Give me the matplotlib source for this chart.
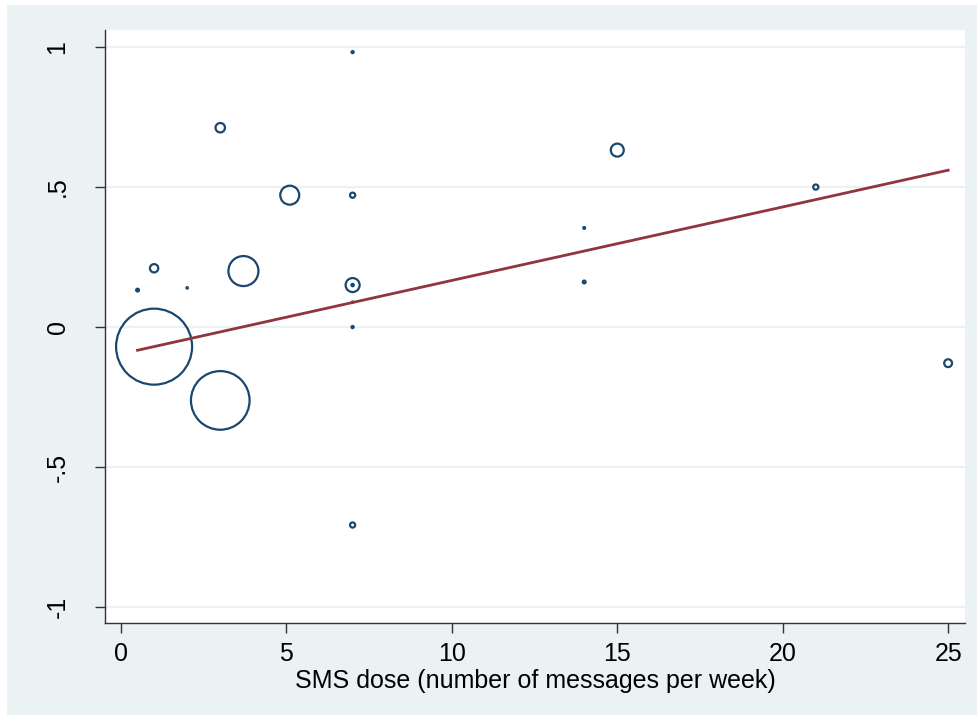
import matplotlib
matplotlib.use("Agg")
import matplotlib.pyplot as plt
from matplotlib.patches import Rectangle
import numpy as np

# ---- data ----
sms_dose = [1, 3, 3.7, 5.1, 7, 15, 3, 1, 25, 7, 21, 7, 7, 7, 7, 0.5, 14, 2, 14, 7]
effect = [-0.070, -0.262, 0.200, 0.471, 0.150, 0.632, 0.712, 0.210, -0.129,
          0.471, 0.500, -0.707, 0.150, 0.982, 0.000, 0.132, 0.161, 0.140, 0.354, 0.089]
weight_pct = [51.8, 30.8, 8.08, 3.23, 1.76, 1.51, 0.80, 0.62, 0.55,
              0.24, 0.24, 0.24, 0.05, 0.04, 0.04, 0.07, 0.07, 0.02, 0.03, 0.01]
fit_intercept = -0.096
fit_slope = 0.02625

x_ticks = [0, 5, 10, 15, 20, 25]
y_ticks = [-1, -0.5, 0, 0.5, 1]
y_ticklabels = ["-1", "-.5", "0", ".5", "1"]
x_label = "SMS dose (number of messages per week)"

navy = "#1A476F"
maroon = "#90353B"
bg = "#EAF2F3"

W, H, DPI = 978, 715, 100
fig = plt.figure(figsize=(W / DPI, H / DPI), dpi=DPI, facecolor="white")
bgrect = Rectangle((7 / W, 0), 1 - 7 / W, 1 - 5 / H, transform=fig.transFigure,
                   facecolor=bg, edgecolor="none", zorder=-10)
fig.patches.append(bgrect)

ax = fig.add_axes([105 / W, 1 - 623 / H, (965 - 105) / W, (623 - 30) / H])
ax.set_zorder(1)
ax.set_facecolor("white")
ax.set_xlim(-0.484, 25.51)
ax.set_ylim(-1.057, 1.061)

for yt in y_ticks:
    ax.axhline(yt, color=bg, lw=1.6, zorder=1)

w = np.array(weight_pct)
r_px = 5.28 * np.sqrt(w)
r_px = np.maximum(r_px, 0.6)
sizes = (2 * r_px * 0.72) ** 2
ax.scatter(sms_dose, effect, s=sizes, facecolors="none", edgecolors=navy,
           linewidths=1.6, zorder=3)

xs = np.array([min(sms_dose), max(sms_dose)])
ax.plot(xs, fit_intercept + fit_slope * xs, color=maroon, lw=2.0, zorder=4)

font = "Liberation Sans"
ax.set_xticks(x_ticks)
ax.set_xticklabels([str(t) for t in x_ticks], fontsize=18, family=font)
ax.set_yticks(y_ticks)
ax.set_yticklabels(y_ticklabels, fontsize=18, family=font, rotation=90, va="center")
ax.tick_params(axis="both", direction="out", length=7, width=1, color="#333333")
ax.tick_params(axis="x", pad=6.5)
ax.tick_params(axis="y", pad=18.5)
ax.set_xlabel(x_label, fontsize=18, family=font, labelpad=2)

for s in ["top", "right"]:
    ax.spines[s].set_visible(False)
for s in ["left", "bottom"]:
    ax.spines[s].set_color("#333333")
    ax.spines[s].set_linewidth(1.0)

fig.savefig("out.png", dpi=DPI, facecolor="white")
